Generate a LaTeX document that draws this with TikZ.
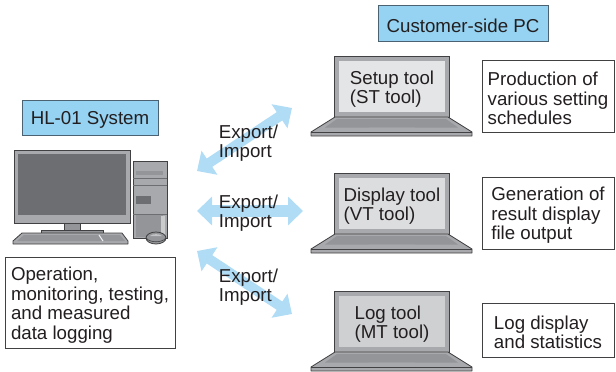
\documentclass[tikz,border=0pt]{standalone}
\usepackage{fontspec}
\setmainfont{Liberation Sans}
\usetikzlibrary{arrows.meta}
\definecolor{ink}{HTML}{231F20}
\definecolor{hdr}{HTML}{96D3F2}
\definecolor{hdredge}{HTML}{4A6272}
\definecolor{flow}{HTML}{B0DCF5}
\definecolor{bodyg}{HTML}{A7A9AC}
\definecolor{darkg}{HTML}{6D6E71}
\definecolor{midg}{HTML}{939598}
\definecolor{edgeg}{HTML}{414042}
\definecolor{scra}{HTML}{E4E5E7}
\definecolor{scrb}{HTML}{DCDDDF}
\definecolor{scrc}{HTML}{CFD0D2}
\newcommand{\tp}{\rule{0pt}{18.5pt}}
\tikzset{
  x=1pt,y=-1pt,
  txt/.style={font=\fontsize{18.7}{19.5}\selectfont,text=ink,align=left,inner sep=0pt,outer sep=0pt},
  header/.style={txt,draw=hdredge,fill=hdr,line width=0.9pt,align=center},
  infobox/.style={txt,draw=edgeg,fill=white,line width=0.7pt},
  screenbox/.style={txt,fill=#1,minimum width=106pt,minimum height=51pt},
  flowarrow/.style={flow,line width=#1,{Triangle[width=28pt,length=15pt]}-{Triangle[width=28pt,length=15pt]}},
  shell/.style={draw=edgeg,line width=0.8pt,fill=bodyg},
}
\newcommand{\laptop}[4]{%
  \begin{scope}[yshift=-#1pt]
    \draw[shell] (334,56) rectangle (449,117);
    \draw[shell,line join=round] (335,117) -- (448,117) -- (472,132) -- (472,136) -- (311,136) -- (311,132) -- cycle;
    \draw[edgeg,line width=0.5pt] (311,132) -- (472,132);
    \fill[midg] (337,119) -- (446,119) -- (458,127.5) -- (325,127.5) -- cycle;
    \fill[bodyg] (369,127.5) -- (415,127.5) -- (417,130) -- (367,130) -- cycle;
    \node[screenbox=#2] (#3) at (392,86.5) {#4};
  \end{scope}%
}
\begin{document}
\begin{tikzpicture}
\useasboundingbox (0,0) rectangle (616,372);

% desktop PC
\draw[shell,fill=bodyg] (14,150) rectangle (130,223);
\fill[darkg] (18,154) rectangle (126,215);
\draw[shell,fill=midg] (64,223) rectangle (80,230);
\draw[shell,fill=midg] (41,230) rectangle (103,233);
\draw[shell,line join=round] (22,233) -- (122,233) -- (128,241) -- (128,244) -- (13,244) -- (13,241) -- cycle;
\fill[midg] (24,235) -- (120,235) -- (125,241) -- (17,241) -- cycle;
\draw[white!80!bodyg,line width=1pt] (99,235) -- (103,241);
\draw[shell] (133,161) rectangle (167,238);
\fill[midg] (136,171) rectangle (163,175);
\fill[darkg] (136,196) rectangle (151,204);
\draw[darkg,line width=0.5pt] (133,178) -- (167,178) (133,185) -- (167,185) (133,214) -- (167,214);
\fill[midg] (136,215) rectangle (163,237);
\fill[bodyg!60!white] (161,216) rectangle (165,236);
\draw[shell,fill=midg] (156,238) ellipse (10 and 6);
\draw[edgeg,line width=0.6pt] (146,238) .. controls (150,243) and (162,243) .. (166,238);
\fill[bodyg!70!white] (150,236) .. controls (152,233.5) and (160,233.5) .. (162,236) -- cycle;

% laptops
\laptop{0}{scra}{setup}{\tp Setup tool\\(ST tool)}
\laptop{117}{scrb}{display}{\tp Display tool\\(VT tool)}
\laptop{235}{scrc}{logt}{\tp Log tool\\(MT tool)}

% headers and boxes
\node[header,minimum width=136pt,minimum height=35pt] (hl) at (90,117.5) {\tp HL-01 System};
\node[header,minimum width=170pt,minimum height=36pt] (cust) at (463,23) {\tp Customer-side PC};
\node[infobox,minimum width=132pt,minimum height=72pt] (prod) at (548,96) {\tp Production of\\various setting\\schedules};
\node[infobox,minimum width=132pt,minimum height=72pt] (gen) at (548,213) {\tp Generation of\\result display\\file output};
\node[infobox,minimum width=132pt,minimum height=54pt] (logd) at (548,330) {\tp Log display\\and statistics};
\node[infobox,minimum width=170pt,minimum height=91pt] (oper) at (90,302.5) {\tp Operation,\\monitoring, testing,\\and measured\\data logging};

% arrows
\coordinate (a1s) at (197,171);
\coordinate (a1e) at (292,108);
\coordinate (a2s) at (197,211);
\coordinate (a2e) at (303,211);
\coordinate (a3s) at (197,251);
\coordinate (a3e) at (292,314);
\draw[flowarrow=10pt] (a1s) -- (a1e);
\draw[flowarrow=12pt] (a2s) -- (a2e);
\draw[flowarrow=10pt] (a3s) -- (a3e);

\node[txt] (l1) at (248.5,143) {Export/\\Import};
\node[txt] (l2) at (248.5,213) {Export/\\Import};
\node[txt] (l3) at (248.5,287) {Export/\\Import};
\end{tikzpicture}
\end{document}
